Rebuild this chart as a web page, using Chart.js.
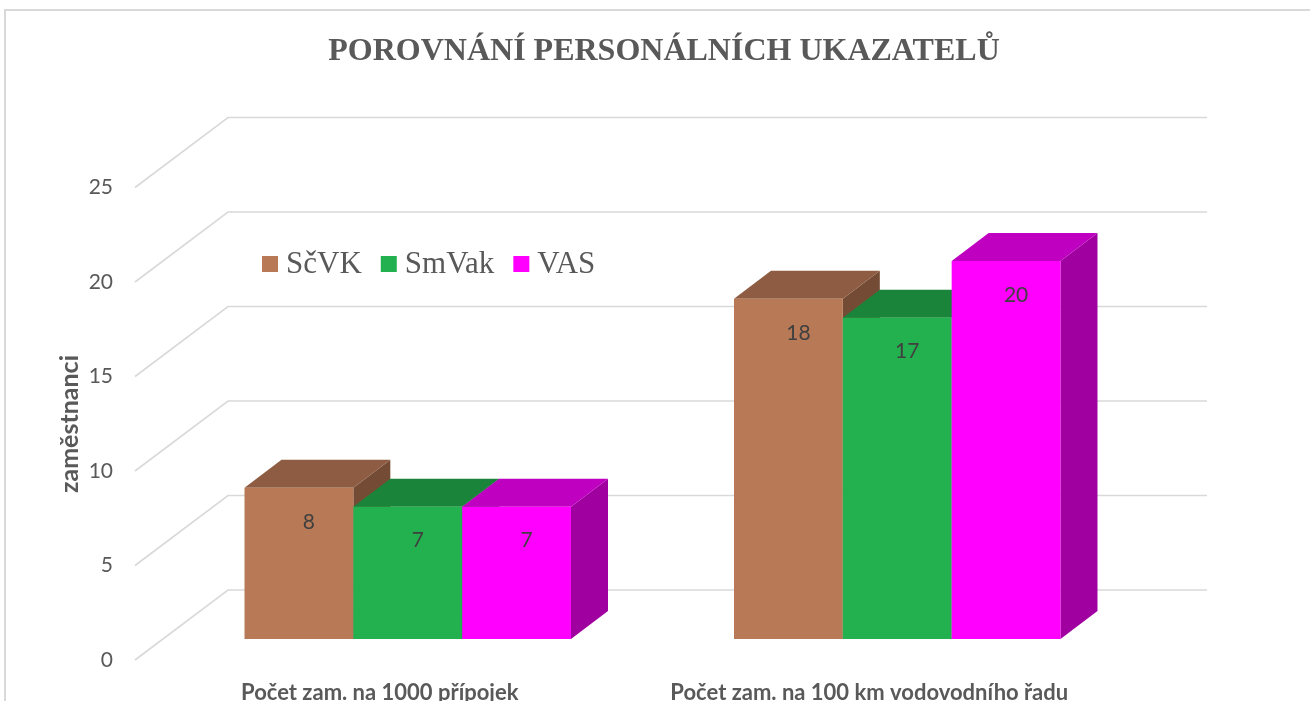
<!DOCTYPE html>
<html>
<head>
<meta charset="utf-8">
<script src="https://cdn.jsdelivr.net/npm/chart.js@4/dist/chart.umd.min.js"></script>
<style>
html,body{margin:0;padding:0;background:#fff;}
#wrap{width:1310px;height:701px;position:relative;}
</style>
</head>
<body>
<div id="wrap"><canvas id="myChart" width="1310" height="701"></canvas></div>
<script>
var categories=["Počet zam. na 1000 přípojek","Počet zam. na 100 km vodovodního řadu"];
var seriesNames=["SčVK","SmVak","VAS"];
var scvk=[8,18];
var smvak=[7,17];
var vas=[7,20];
var yTicks=[0,5,10,15,20,25];

// front / top / side colours per series
var front=["#b87a56","#23b04e","#ff00ff"];
var topc=["#8d5c42","#1b843b","#c000c0"];
var side=["#744b34","#15692f","#a000a0"];

// depth of the 3D box and of the wall
var wallDx=93, wallDy=-70;
var barDx=28, barDy=-21;
var depDx=37, depDy=-28;

var threeD={
  id:"threeD",
  beforeDatasetsDraw:function(chart){
    var ctx=chart.ctx, ys=chart.scales.y, a=chart.chartArea;
    ctx.save();
    ctx.strokeStyle="#d9d9d9";
    ctx.lineWidth=1.6;
    yTicks.forEach(function(v){
      var y=ys.getPixelForValue(v);
      ctx.beginPath();
      ctx.moveTo(a.left,y);
      ctx.lineTo(a.left+wallDx,y+wallDy);
      ctx.lineTo(a.right+wallDx,y+wallDy);
      ctx.stroke();
    });
    var n=chart.data.labels.length;
    for(var i=0;i<n;i++){
      chart.data.datasets.forEach(function(ds,d){
        var el=chart.getDatasetMeta(d).data[i];
        var x0=el.x-el.width/2+barDx, x1=el.x+el.width/2+barDx;
        var yt=el.y+barDy, yb=el.base+barDy;
        // side
        ctx.fillStyle=side[d];
        ctx.beginPath();
        ctx.moveTo(x1,yt);ctx.lineTo(x1+depDx,yt+depDy);
        ctx.lineTo(x1+depDx,yb+depDy);ctx.lineTo(x1,yb);ctx.closePath();ctx.fill();
        // top
        ctx.fillStyle=topc[d];
        ctx.beginPath();
        ctx.moveTo(x0,yt);ctx.lineTo(x0+depDx,yt+depDy);
        ctx.lineTo(x1+depDx,yt+depDy);ctx.lineTo(x1,yt);ctx.closePath();ctx.fill();
        // front
        ctx.fillStyle=front[d];
        ctx.fillRect(x0,yt,x1-x0,yb-yt);
      });
    }
    // value labels
    ctx.fillStyle="#404040";
    ctx.font="21px Lato";
    ctx.textAlign="center";
    ctx.textBaseline="middle";
    chart.data.datasets.forEach(function(ds,d){
      chart.getDatasetMeta(d).data.forEach(function(el,i){
        ctx.fillText(String(ds.data[i]),el.x+barDx+10,el.y+barDy+34);
      });
    });
    ctx.restore();
    return false;
  },
  afterDraw:function(chart){
    var ctx=chart.ctx;
    ctx.save();
    // outer border
    ctx.strokeStyle="#d9d9d9";
    ctx.lineWidth=2;
    ctx.strokeRect(5,10,1320,720);
    // title
    ctx.fillStyle="#595959";
    ctx.font="bold 32px 'Liberation Serif'";
    ctx.textAlign="center";
    ctx.textBaseline="alphabetic";
    ctx.fillText("POROVNÁNÍ PERSONÁLNÍCH UKAZATELŮ",664,60);
    // y axis title
    ctx.font="bold 25px Lato";
    ctx.translate(70,424);
    ctx.rotate(-Math.PI/2);
    ctx.textBaseline="middle";
    ctx.fillText("zaměstnanci",0,0);
    ctx.restore();
    // legend
    ctx.save();
    ctx.font="31px 'Liberation Serif'";
    ctx.textBaseline="middle";
    ctx.textAlign="left";
    var x=262, y=264;
    chart.data.datasets.forEach(function(ds,d){
      ctx.fillStyle=front[d];
      ctx.fillRect(x,y-8,16,16);
      ctx.fillStyle="#595959";
      ctx.fillText(ds.label,x+24,y+1);
      x+=24+ctx.measureText(ds.label).width+19;
    });
    ctx.restore();
  }
};

var ctx=document.getElementById("myChart");
var myChart=new Chart(ctx,{
  type:"bar",
  data:{
    labels:categories,
    datasets:[
      {label:seriesNames[0],data:scvk,backgroundColor:front[0]},
      {label:seriesNames[1],data:smvak,backgroundColor:front[1]},
      {label:seriesNames[2],data:vas,backgroundColor:front[2]}
    ]
  },
  options:{
    responsive:false,
    animation:false,
    categoryPercentage:0.667,
    barPercentage:1,
    layout:{padding:{top:187.5,left:0,right:196,bottom:0}},
    plugins:{legend:{display:false},tooltip:{enabled:false}},
    scales:{
      x:{
        grid:{display:false,drawTicks:false},
        border:{display:false},
        ticks:{padding:20,color:"#595959",font:{family:"Lato",size:22,weight:"bold"},maxRotation:0},
        afterFit:function(s){s.height=41;}
      },
      y:{
        min:0,max:25,
        grid:{display:false,drawTicks:false},
        border:{display:false},
        ticks:{stepSize:5,padding:22,color:"#595959",font:{family:"Lato",size:21}},
        afterFit:function(s){s.width=135;}
      }
    }
  },
  plugins:[threeD]
});
</script>
</body>
</html>
